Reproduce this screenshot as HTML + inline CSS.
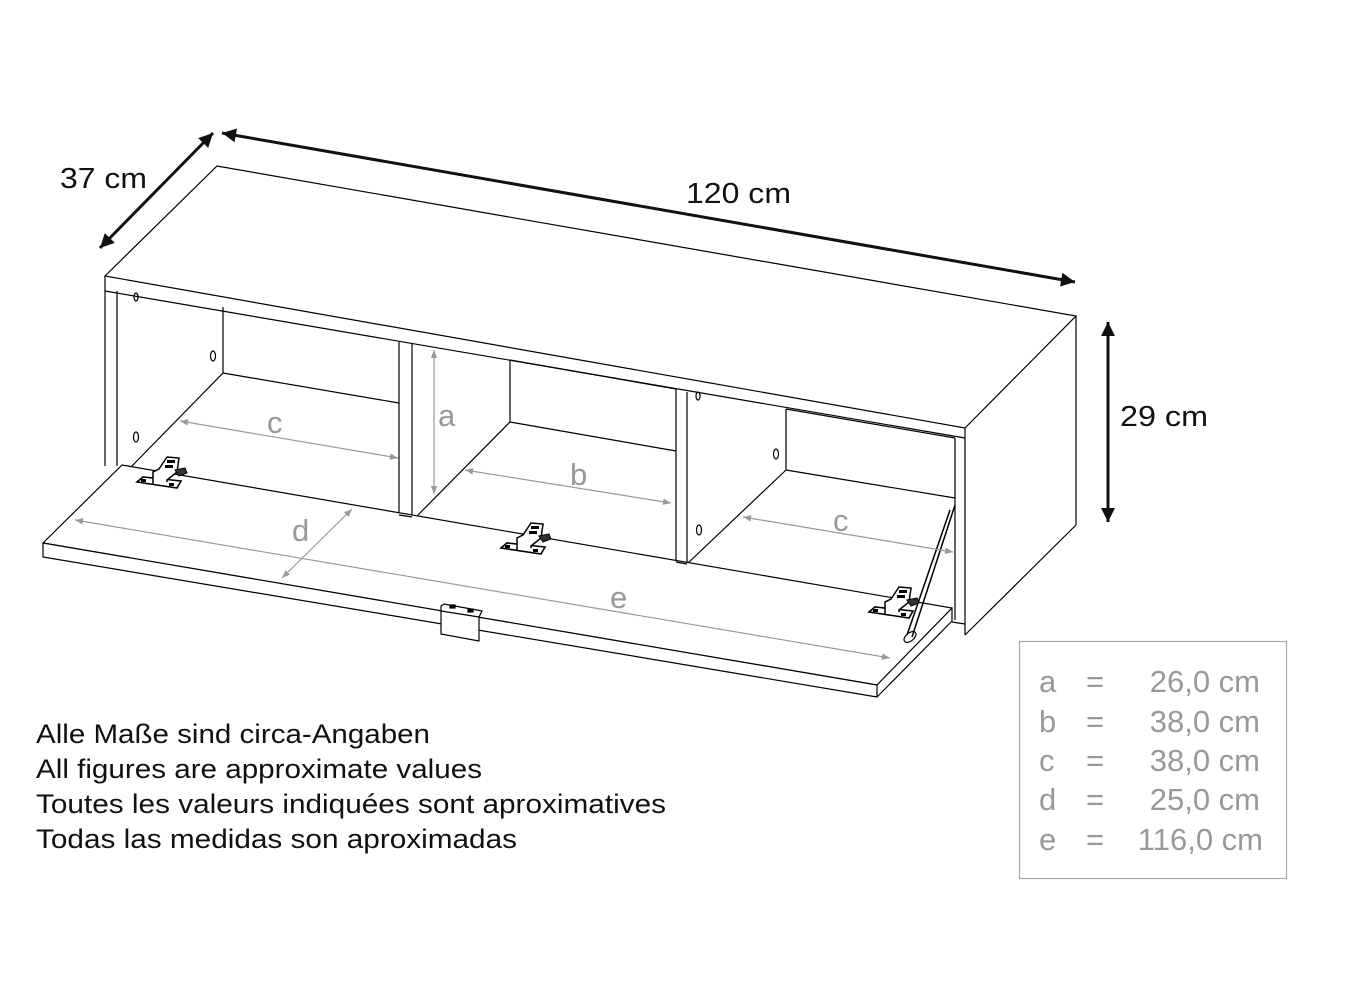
<!DOCTYPE html>
<html><head><meta charset="utf-8"><style>
html,body{margin:0;padding:0;background:#fff;}
svg{display:block;}
text{font-family:"Liberation Sans",Arial,sans-serif;}
</style></head><body>
<svg width="1356" height="1000" viewBox="0 0 1356 1000" xmlns="http://www.w3.org/2000/svg">
<defs>
<marker id="ga" viewBox="0 0 10 10" refX="10" refY="5" markerWidth="16" markerHeight="8" orient="auto-start-reverse" markerUnits="userSpaceOnUse"><path d="M0,1 L10,5 L0,9 z" fill="#999"/></marker>
<marker id="ba" viewBox="0 0 10 10" refX="10" refY="5" markerWidth="28" markerHeight="14" orient="auto-start-reverse" markerUnits="userSpaceOnUse"><path d="M0,0 L10,5 L0,10 z" fill="#111"/></marker>
<g id="hinge">
 <path d="M0,20 L6,15 L44,19 L40,26 Z" fill="#fff" stroke="#000" stroke-width="1.6"/>
 <rect x="4" y="17" width="5" height="3" fill="#000"/><rect x="32" y="21" width="5" height="3" fill="#000"/>
 <path d="M16,22 L16,10 L22,7 L30,8 L30,20" fill="#fff" stroke="#000" stroke-width="1.5"/>
 <path d="M22,7 L30,-5 L42,-4 L40,10 L30,18" fill="#fff" stroke="#000" stroke-width="1.5"/>
 <rect x="30" y="-2" width="8" height="3" fill="#000"/><rect x="28" y="3" width="8" height="3" fill="#000"/>
 <path d="M38,8 L48,6 L50,11 L42,14 Z" fill="#333" stroke="#000"/>
</g>
</defs>
<g fill="none" stroke="#000" stroke-width="1.2">
 <polygon points="105,276 217,166 1076,316 965,428" fill="#fff"/>
 <line x1="105" y1="291" x2="965" y2="438"/>
 <line x1="105" y1="276" x2="105" y2="291"/>
 <line x1="105" y1="291" x2="105" y2="466"/>
 <line x1="117" y1="291" x2="117" y2="466"/>
 <line x1="965" y1="428" x2="965" y2="635"/>
 <line x1="955" y1="438" x2="955" y2="620"/>
 <line x1="1076" y1="316" x2="1076" y2="525"/>
 <line x1="965" y1="635" x2="1076" y2="525"/>
 <line x1="952" y1="622" x2="965" y2="624"/>
 <line x1="223" y1="307" x2="223" y2="373"/>
 <line x1="223" y1="373" x2="399" y2="403"/>
 <line x1="223" y1="373" x2="130" y2="468"/>
 <line x1="399" y1="342" x2="399" y2="515"/>
 <line x1="412" y1="344" x2="412" y2="517"/>
 <line x1="510" y1="360" x2="510" y2="422"/>
 <line x1="510" y1="360" x2="676" y2="389"/>
 <line x1="510" y1="422" x2="676" y2="451"/>
 <line x1="510" y1="422" x2="415" y2="518"/>
 <line x1="676" y1="389" x2="676" y2="562"/>
 <line x1="687" y1="392" x2="687" y2="564"/>
 <line x1="786" y1="409" x2="786" y2="470"/>
 <line x1="786" y1="409" x2="955" y2="438"/>
 <line x1="786" y1="470" x2="955" y2="498"/>
 <line x1="786" y1="470" x2="688" y2="563"/>
 <polygon points="43,543 122,465 952,608 877,685" fill="#fff"/>
 <polygon points="43,543 877,685 877,697 43,557" fill="#fff"/>
 <line x1="877" y1="697" x2="952" y2="621"/>
 <line x1="952" y1="608" x2="952" y2="621"/>
 <line x1="399" y1="515" x2="412" y2="517"/>
 <line x1="676" y1="562" x2="687" y2="564"/>
 <path d="M441,606 L444,604 L482,611 L479,617 L479,641 L441,634 Z" fill="#fff"/>
 <line x1="441" y1="611" x2="479" y2="617"/>
 <rect x="450" y="605" width="5" height="3" fill="#000"/><rect x="468" y="609" width="5" height="3" fill="#000"/>
 <line x1="955" y1="505" x2="912" y2="637" stroke-width="1.5"/>
 <line x1="950" y1="510" x2="907" y2="635" stroke-width="1.5"/>
 <ellipse cx="910" cy="637" rx="7" ry="4" transform="rotate(-40 910 637)"/>
 <ellipse cx="136" cy="297" rx="2" ry="4"/>
 <ellipse cx="213" cy="356" rx="2.5" ry="5"/>
 <ellipse cx="136" cy="437" rx="2.5" ry="5"/>
 <ellipse cx="698" cy="396" rx="2" ry="4"/>
 <ellipse cx="776" cy="454" rx="2.5" ry="5"/>
 <ellipse cx="699" cy="530" rx="2.5" ry="5"/>
</g>
<use href="#hinge" x="137" y="462"/>
<use href="#hinge" x="501" y="528"/>
<use href="#hinge" x="869" y="592"/>
<g stroke="#999" stroke-width="1.2" fill="none">
 <line x1="180" y1="421" x2="398" y2="458" marker-start="url(#ga)" marker-end="url(#ga)"/>
 <line x1="434" y1="350" x2="434" y2="494" marker-start="url(#ga)" marker-end="url(#ga)"/>
 <line x1="465" y1="470" x2="671" y2="503" marker-start="url(#ga)" marker-end="url(#ga)"/>
 <line x1="743" y1="517" x2="953" y2="552" marker-start="url(#ga)" marker-end="url(#ga)"/>
 <line x1="352" y1="509" x2="282" y2="578" marker-start="url(#ga)" marker-end="url(#ga)"/>
 <line x1="75" y1="520" x2="890" y2="658" marker-start="url(#ga)" marker-end="url(#ga)"/>
</g>
<g fill="#999" font-size="31">
 <text x="267" y="433">c</text>
 <text x="438" y="426">a</text>
 <text x="570" y="485">b</text>
 <text x="833" y="531">c</text>
 <text x="292" y="541">d</text>
 <text x="610" y="608">e</text>
</g>
<g stroke="#111" stroke-width="3" fill="none">
 <line x1="100" y1="248" x2="213" y2="133" marker-start="url(#ba)" marker-end="url(#ba)"/>
 <line x1="222" y1="133" x2="1075" y2="282" marker-start="url(#ba)" marker-end="url(#ba)"/>
 <line x1="1108" y1="322" x2="1108" y2="522" marker-start="url(#ba)" marker-end="url(#ba)"/>
</g>
<g fill="#111" font-size="29">
 <text x="60" y="188" textLength="87" lengthAdjust="spacingAndGlyphs">37 cm</text>
 <text x="686" y="203" textLength="105" lengthAdjust="spacingAndGlyphs">120 cm</text>
 <text x="1120" y="426" textLength="88" lengthAdjust="spacingAndGlyphs">29 cm</text>
</g>
<g fill="#111" font-size="27">
 <text x="36" y="743" textLength="394" lengthAdjust="spacingAndGlyphs">Alle Maße sind circa-Angaben</text>
 <text x="36" y="778" textLength="446" lengthAdjust="spacingAndGlyphs">All figures are approximate values</text>
 <text x="36" y="813" textLength="630" lengthAdjust="spacingAndGlyphs">Toutes les valeurs indiquées sont aproximatives</text>
 <text x="36" y="848" textLength="481" lengthAdjust="spacingAndGlyphs">Todas las medidas son aproximadas</text>
</g>
<rect x="1019.5" y="641.5" width="267" height="237" fill="none" stroke="#aaa" stroke-width="1.2"/>
<g fill="#999" font-size="31">
 <text x="1039" y="692">a</text><text x="1086" y="692">=</text><text x="1260" y="692" text-anchor="end">26,0 cm</text>
 <text x="1039" y="732">b</text><text x="1086" y="732">=</text><text x="1260" y="732" text-anchor="end">38,0 cm</text>
 <text x="1039" y="771">c</text><text x="1086" y="771">=</text><text x="1260" y="771" text-anchor="end">38,0 cm</text>
 <text x="1039" y="810">d</text><text x="1086" y="810">=</text><text x="1260" y="810" text-anchor="end">25,0 cm</text>
 <text x="1039" y="850">e</text><text x="1086" y="850">=</text><text x="1263" y="850" text-anchor="end">116,0 cm</text>
</g>
</svg>
</body></html>
